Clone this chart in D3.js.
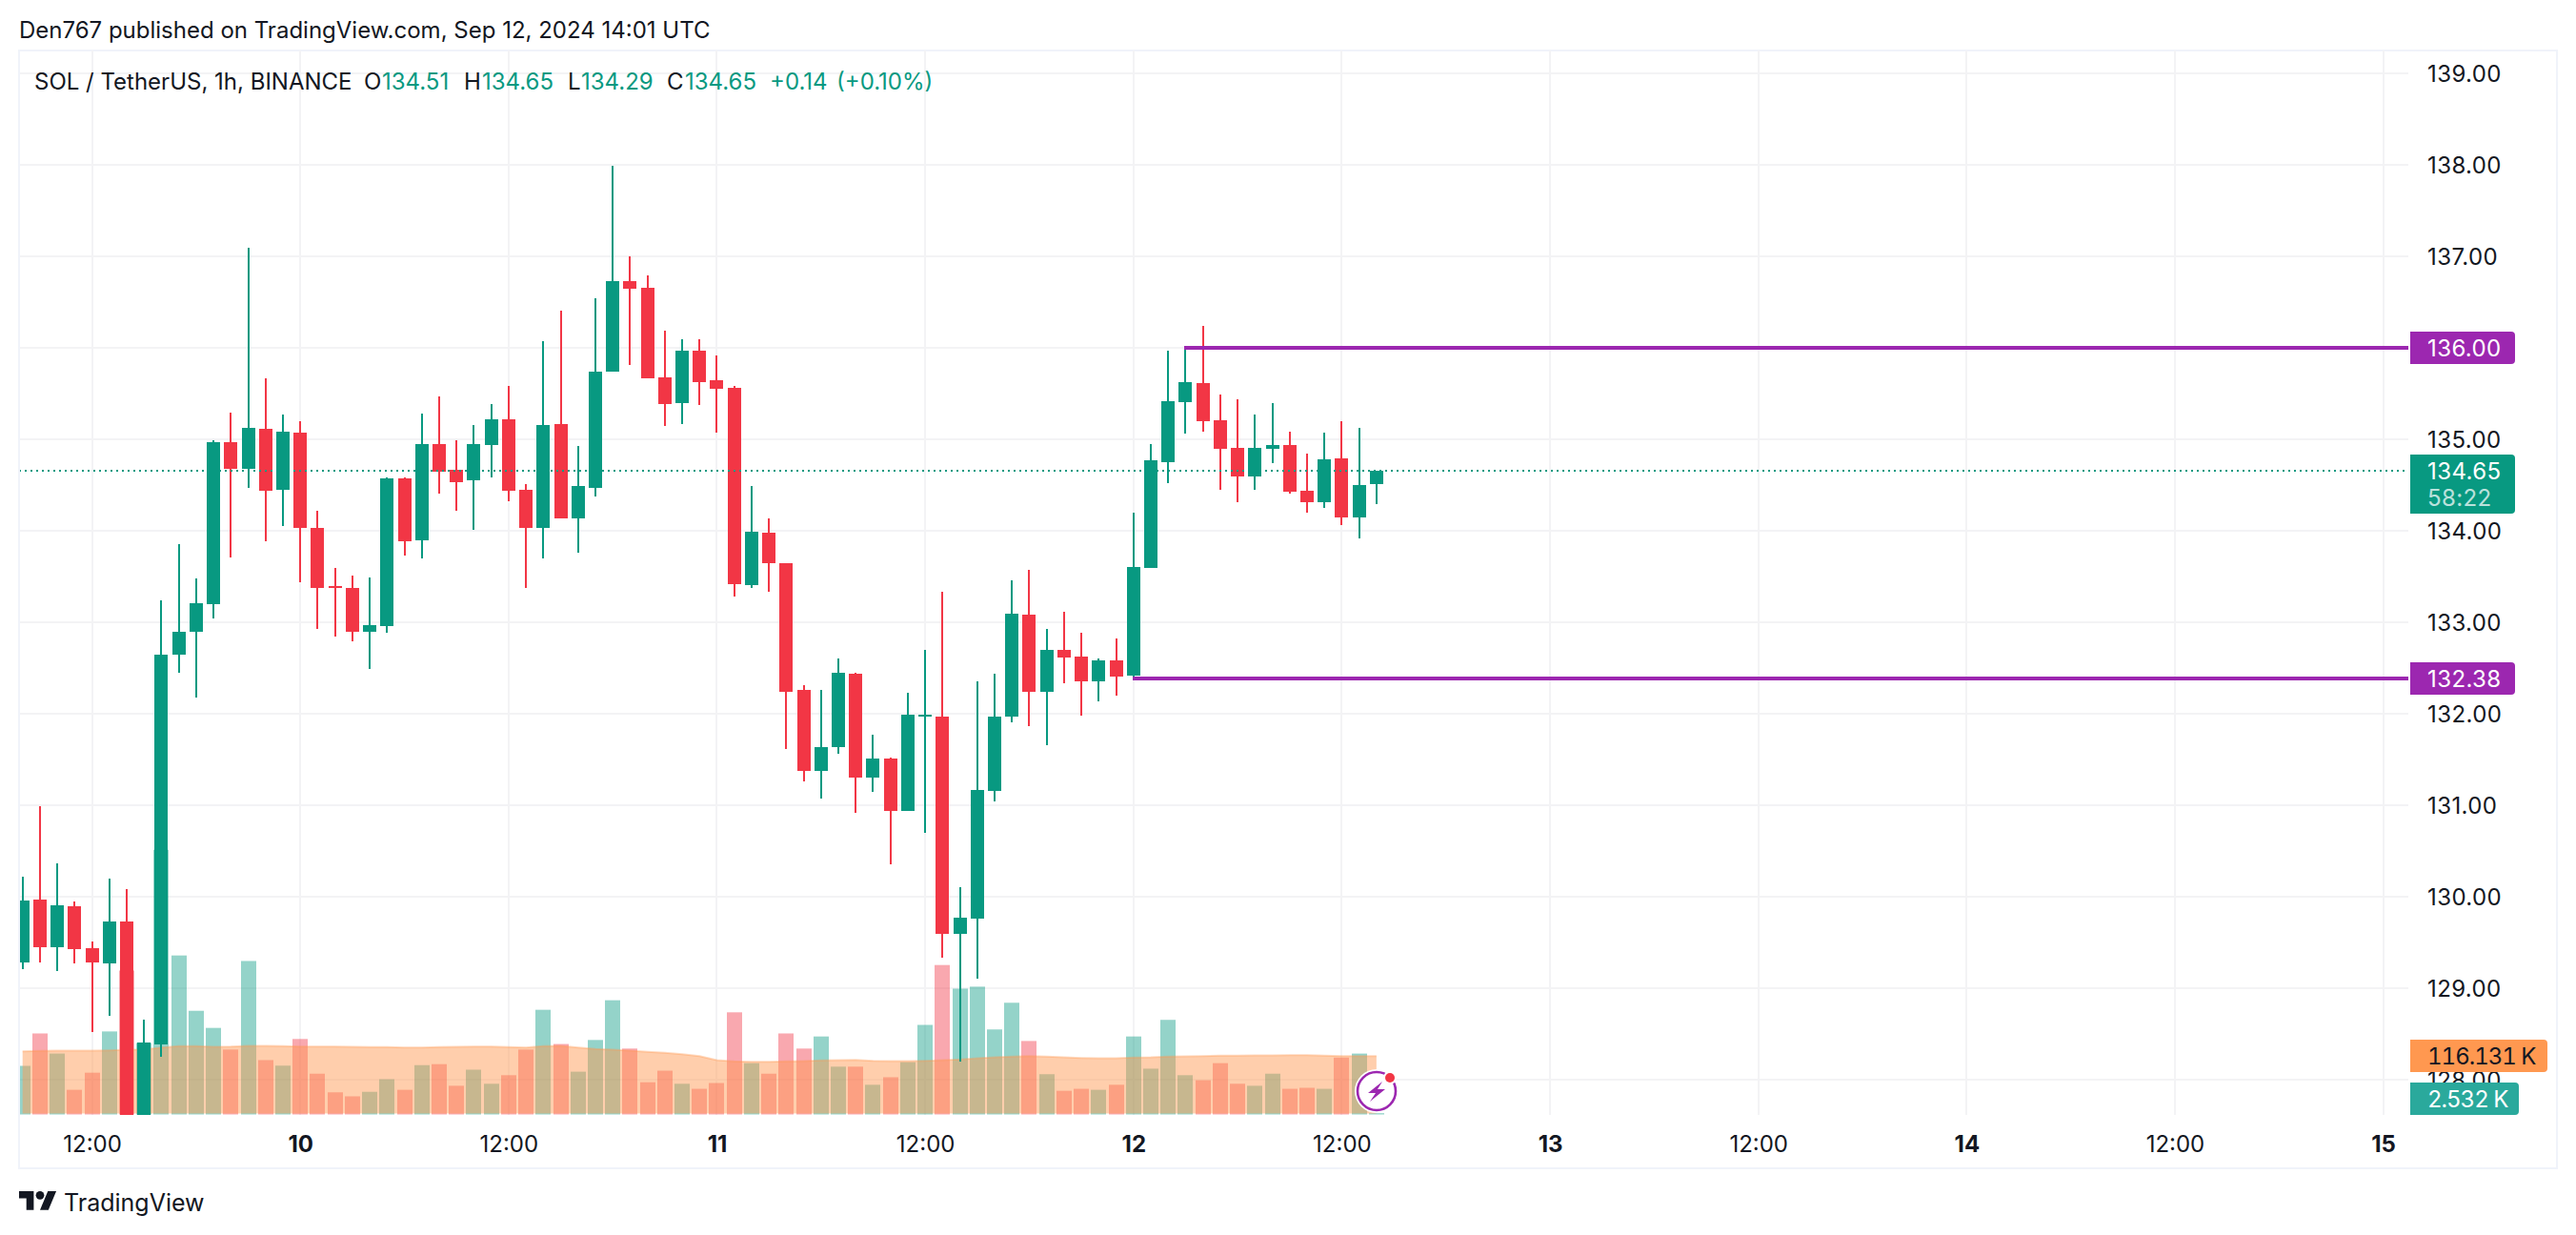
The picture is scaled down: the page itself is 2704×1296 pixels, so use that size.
<!DOCTYPE html>
<html>
<head>
<meta charset="utf-8">
<script src="https://cdn.jsdelivr.net/npm/d3@7"></script>
<style>
  html, body { margin: 0; padding: 0; background: #fff; }
  text { font-family: Inter, "Noto Sans", sans-serif; fill: #131722; }
</style>
</head>
<body>
<div id="chart"></div>
<script>
// Values, one entry per 1h bar, first bar is Sep 9 08:00 UTC
const open = [129.28,129.97,129.45,129.89,129.43,129.27,129.73,127.60,128.38,132.64,132.89,133.20,134.97,134.67,135.11,134.44,135.07,134.03,133.39,133.37,132.89,132.96,134.57,133.89,134.95,134.66,134.55,134.93,135.22,134.45,134.03,135.16,134.13,134.47,135.74,136.73,136.65,135.67,135.39,135.97,135.64,135.56,133.40,133.98,133.64,132.26,131.37,131.63,132.43,131.30,131.51,130.93,131.97,131.97,129.59,129.76,131.15,131.97,133.08,132.24,132.69,132.62,132.35,132.58,132.41,133.59,134.75,135.40,135.61,135.21,134.90,134.59,134.89,134.93,134.43,134.31,134.79,134.14,134.51]
const high = [130.22,130.99,130.36,129.95,129.51,130.20,130.08,128.65,133.24,133.85,133.48,134.99,135.29,137.09,135.66,135.27,135.19,134.22,133.59,133.51,133.49,134.58,134.58,135.28,135.47,134.99,135.15,135.38,135.58,134.51,136.07,136.40,134.92,136.54,137.99,137.00,136.79,136.18,136.09,136.09,135.91,135.58,134.49,134.13,133.64,132.31,132.26,132.60,132.44,131.77,131.52,132.23,132.69,133.33,130.10,132.35,132.43,133.46,133.57,132.92,133.11,132.88,132.60,132.82,134.20,134.94,135.97,135.99,136.24,135.49,135.43,135.27,135.39,135.08,134.84,135.07,135.20,135.12,134.65]
const low = [129.21,129.28,129.18,129.27,128.52,128.69,127.60,127.60,128.25,132.44,132.17,133.04,133.71,134.47,133.88,134.05,133.43,132.92,132.84,132.79,132.49,132.88,133.73,133.69,134.40,134.22,134.01,134.58,134.32,133.37,133.69,134.13,133.76,134.37,135.74,135.81,135.66,135.14,135.16,135.37,135.07,133.28,133.37,133.33,131.61,131.26,131.07,131.56,130.91,131.14,130.35,130.93,130.69,129.33,128.19,129.10,131.04,131.90,131.86,131.65,132.33,131.98,132.13,132.20,132.37,133.59,134.52,135.06,135.08,134.45,134.31,134.44,134.74,134.40,134.20,134.25,134.06,133.91,134.29]
const close = [129.96,129.45,129.90,129.42,129.28,129.73,127.60,128.40,132.64,132.89,133.21,134.97,134.67,135.12,134.43,135.08,134.03,133.37,133.37,132.89,132.97,134.57,133.88,134.95,134.64,134.53,134.94,135.22,134.43,134.03,135.15,134.13,134.49,135.74,136.73,136.64,135.66,135.38,135.97,135.62,135.55,133.41,133.99,133.64,132.24,131.37,131.63,132.44,131.30,131.51,130.93,131.99,131.99,129.59,129.77,131.16,131.97,133.09,132.24,132.69,132.61,132.35,132.58,132.40,133.60,134.77,135.41,135.62,135.19,134.89,134.59,134.90,134.93,134.42,134.31,134.78,134.14,134.50,134.65]
const volume = [96.6,161,121,49,83,165,286,142,526,316,206,172,129,305,108,97,150,81,44,36,45,70,49,98,100,57,89,61,78,129,208,140,85,148,227,131,64,87,61,51,62.5,203,102,81,161,131,155,95,95,59,74,104,178,297,250,254,169,222,146,80,47,51,49,59,155,91,188,78,68,102,61,57,81,51,53,51,113,121,2.532]
const volumeMA = [125.6,126.3,126.9,126.9,126.9,127.5,128.8,129.4,133.2,135.7,135.7,134.5,135,136.4,136.4,135.7,135.1,135.1,135.1,134.5,133.8,133.8,133.2,133.2,133.8,134.5,135.1,135.1,133.8,133.2,135.7,136.4,133.2,130,128.8,126.9,124.4,122.5,120,116,108,105.4,104.8,104.8,105.4,106,107.3,108,108.6,106.7,106,106,106.7,108,109.2,111.7,113.6,115,116.2,115,113.6,112.4,111.7,111.7,113,113.6,115,115.5,116.2,116.8,116.8,117.4,117.4,118,118,116.8,115.8,116,116.131]
const priceTicks = [139,138,137,136,135,134,133,132,131,130,129,128]
const levels = [
  { price: 136.00, from: 67 },
  { price: 132.38, from: 64 }
]

const WIDTH = 2704
const HEIGHT = 1296
const FRAME = { LEFT: 20, RIGHT: 2684, TOP: 53, BOTTOM: 1226 }
const PLOT_RIGHT = 2528
const PLOT_BOTTOM = 1170
const GREEN = "#089981"
const RED = "#F23645"
const PURPLE = "#9C27B0"
const ORANGE = "#FF9850"
const GRID = "#F3F3F5"

const start = Date.UTC(2024, 8, 9, 8)
const dates = open.map((d, i) => new Date(start + i * 3600000))
const bars = open.map((d, i) => ({
  date: dates[i], open: d, high: high[i], low: low[i], close: close[i],
  volume: volume[i], ma: volumeMA[i], up: close[i] >= d
}))
const last = bars[bars.length - 1]

// Scales
const x = d3.scaleUtc()
  .domain([new Date(start), new Date(Date.UTC(2024, 8, 15, 0))])
  .range([23.7, 2501.6])
const y = d3.scaleLinear().domain([139, 128]).range([76.7, 1132.7])
const yVol = d3.scaleLinear().domain([0, 1000]).range([1169.5, 641.5])
const px = d => Math.round(x(d))

const svg = d3.select("#chart").append("svg")
  .attr("width", WIDTH)
  .attr("height", HEIGHT)
  .style("display", "block")

svg.append("defs").append("clipPath").attr("id", "plot")
  .append("rect")
  .attr("x", FRAME.LEFT + 1).attr("y", FRAME.TOP)
  .attr("width", PLOT_RIGHT - FRAME.LEFT - 1)
  .attr("height", PLOT_BOTTOM - FRAME.TOP)

// Frame
svg.append("rect")
  .attr("x", FRAME.LEFT).attr("y", FRAME.TOP)
  .attr("width", FRAME.RIGHT - FRAME.LEFT)
  .attr("height", FRAME.BOTTOM - FRAME.TOP)
  .attr("fill", "none")
  .attr("stroke", "#F0F3FA")
  .attr("stroke-width", 2)
  .attr("shape-rendering", "crispEdges")

const timeTicks = d3.utcHour.every(12).range(new Date(Date.UTC(2024, 8, 9, 12)), new Date(Date.UTC(2024, 8, 15, 1)))
const plot = svg.append("g").attr("clip-path", "url(#plot)")

// Grid
plot.append("g").selectAll("line").data(priceTicks).join("line")
  .attr("x1", FRAME.LEFT).attr("x2", PLOT_RIGHT)
  .attr("y1", d => Math.round(y(d))).attr("y2", d => Math.round(y(d)))
  .attr("stroke", GRID).attr("stroke-width", 2)
  .attr("shape-rendering", "crispEdges")
plot.append("g").selectAll("line").data(timeTicks).join("line")
  .attr("x1", d => px(d)).attr("x2", d => px(d))
  .attr("y1", FRAME.TOP).attr("y2", PLOT_BOTTOM)
  .attr("stroke", GRID).attr("stroke-width", 2)
  .attr("shape-rendering", "crispEdges")

// Volume
plot.append("g").selectAll("rect").data(bars).join("rect")
  .attr("x", d => px(d.date) - 8)
  .attr("width", 16)
  .attr("y", d => yVol(d.volume))
  .attr("height", d => yVol(0) - yVol(d.volume))
  .attr("fill", d => d.up ? GREEN : RED)
  .attr("fill-opacity", 0.43)

// Volume MA
const maArea = d3.area().x(d => x(d.date)).y0(yVol(0) - 1).y1(d => yVol(d.ma))
const maLine = d3.line().x(d => x(d.date)).y(d => yVol(d.ma))
plot.append("path").datum(bars)
  .attr("d", maArea)
  .attr("fill", ORANGE).attr("fill-opacity", 0.475)
plot.append("path").datum(bars)
  .attr("d", maLine)
  .attr("fill", "none")
  .attr("stroke", ORANGE).attr("stroke-opacity", 0.35).attr("stroke-width", 2)

// Candles
const candles = plot.append("g").selectAll("g").data(bars).join("g")
  .attr("fill", d => d.up ? GREEN : RED)
  .attr("shape-rendering", "crispEdges")
candles.append("rect")
  .attr("x", d => px(d.date) - 1)
  .attr("width", 2)
  .attr("y", d => Math.round(y(d.high)))
  .attr("height", d => Math.round(y(d.low)) - Math.round(y(d.high)))
candles.append("rect")
  .attr("x", d => px(d.date) - 7)
  .attr("width", 14)
  .attr("y", d => Math.round(y(Math.max(d.open, d.close))))
  .attr("height", d => Math.max(2, Math.round(y(Math.min(d.open, d.close))) - Math.round(y(Math.max(d.open, d.close)))))

// Last price line
plot.append("line")
  .attr("x1", FRAME.LEFT).attr("x2", PLOT_RIGHT - 4)
  .attr("y1", Math.round(y(last.close))).attr("y2", Math.round(y(last.close)))
  .attr("stroke", GREEN).attr("stroke-width", 2)
  .attr("stroke-dasharray", "2 4")
  .attr("shape-rendering", "crispEdges")

// Drawn levels
svg.append("g").selectAll("line").data(levels).join("line")
  .attr("x1", d => px(bars[d.from].date) - 1)
  .attr("x2", PLOT_RIGHT)
  .attr("y1", d => Math.round(y(d.price))).attr("y2", d => Math.round(y(d.price)))
  .attr("stroke", PURPLE).attr("stroke-width", 4)
  .attr("shape-rendering", "crispEdges")

// Price axis
const priceAxis = d3.axisRight(y).tickValues(priceTicks).tickFormat(d3.format(".2f")).tickSize(0).tickPadding(0)
const priceG = svg.append("g")
  .attr("transform", "translate(2548,0)")
  .call(priceAxis)
priceG.select(".domain").remove()
priceG.attr("font-family", null).attr("font-size", null)
priceG.selectAll("text").attr("dy", "0.37em").attr("font-size", 24).attr("letter-spacing", 0.4)

// Time axis
const timeAxis = d3.axisBottom(x).tickValues(timeTicks)
  .tickFormat(d => d.getUTCHours() === 0 ? d.getUTCDate() : "12:00")
  .tickSize(0)
const timeG = svg.append("g")
  .attr("transform", `translate(0,${PLOT_BOTTOM})`)
  .call(timeAxis)
timeG.select(".domain").remove()
timeG.attr("font-family", null).attr("font-size", null)
timeG.selectAll("text")
  .attr("y", 30).attr("dy", "0.37em")
  .attr("font-size", 24)
  .attr("font-weight", d => d.getUTCHours() === 0 ? 700 : 400)

// Right scale labels
const fmtK = d => d3.format(".3f")(d) + " K"
const labels = [
  { top: 348, h: 34, w: 110, bg: PURPLE, lines: [{ t: "136.00", y: 365, c: "#fff" }] },
  { top: 695, h: 34, w: 110, bg: PURPLE, lines: [{ t: "132.38", y: 712, c: "#fff" }] },
  { top: 477, h: 62, w: 110, bg: GREEN, lines: [{ t: last.close.toFixed(2), y: 494, c: "#fff" }, { t: "58:22", y: 522, c: "#fff", o: 0.72 }] },
  { top: 1091, h: 34, w: 144, bg: ORANGE, lines: [{ t: fmtK(last.ma), y: 1108, c: "#131722", tab: true }] },
  { top: 1136, h: 34, w: 114, bg: "#2AA99C", lines: [{ t: fmtK(last.volume), y: 1153, c: "#fff", tab: true }] }
]
const labelG = svg.append("g").selectAll("g").data(labels).join("g")
labelG.append("path")
  .attr("d", d => `M2530,${d.top}h${d.w - 4}a4,4 0 0 1 4,4v${d.h - 8}a4,4 0 0 1 -4,4h-${d.w - 4}z`)
  .attr("fill", d => d.bg)
labelG.selectAll("text").data(d => d.lines).join("text")
  .attr("x", 2548)
  .attr("y", d => d.y)
  .attr("dy", "0.37em")
  .attr("font-size", 24)
  .attr("letter-spacing", d => d.tab ? -1 : 0.4)
  .style("font-variant-numeric", d => d.tab ? "tabular-nums" : null)
  .style("fill", d => d.c)
  .attr("opacity", d => d.o || 1)
  .text(d => d.t)

// Bolt badge next to the last bar
const badge = svg.append("g").attr("transform", `translate(${px(last.date)},1145)`)
badge.append("circle").attr("r", 23).attr("fill", "#fff")
badge.append("circle").attr("r", 20).attr("fill", "#fff").attr("stroke", PURPLE).attr("stroke-width", 2.6)
badge.append("path").attr("d", "M6,-10 L-9,2 L-1,2 L-7,11 L9,-2 L1,-2 Z").attr("fill", PURPLE)
badge.append("circle").attr("cx", 14).attr("cy", -14).attr("r", 7).attr("fill", "#fff")
badge.append("circle").attr("cx", 14).attr("cy", -14).attr("r", 5).attr("fill", RED)

// Header and legend
svg.append("text").attr("x", 20).attr("y", 32).attr("dy", "0.35em").attr("font-size", 24)
  .text("Den767 published on TradingView.com, Sep 12, 2024 14:01 UTC")

const legend = [
  { t: "SOL / TetherUS, 1h, BINANCE", x: 36 },
  { t: "O", x: 382 },
  { t: last.open.toFixed(2), x: 401, g: true },
  { t: "H", x: 487 },
  { t: last.high.toFixed(2), x: 506, g: true },
  { t: "L", x: 596 },
  { t: last.low.toFixed(2), x: 610, g: true },
  { t: "C", x: 700 },
  { t: last.close.toFixed(2), x: 719, g: true },
  { t: "+0.14", x: 808, g: true },
  { t: "(+0.10%)", x: 878, g: true }
]
svg.append("g").selectAll("text").data(legend).join("text")
  .attr("x", d => d.x).attr("y", 86).attr("dy", "0.35em")
  .attr("font-size", 24)
  .style("fill", d => d.g ? GREEN : "#131722")
  .text(d => d.t)

// TradingView logo
const logo = svg.append("g").attr("transform", "translate(20,1245.5) scale(1.1)").attr("fill", "#131722")
logo.append("path").attr("d", "M14 22H7V11H0V4h14v18zM28 22h-8l7.5-18h8L28 22z")
logo.append("circle").attr("cx", 20).attr("cy", 8).attr("r", 4)
svg.append("text").attr("x", 67).attr("y", 1262).attr("dy", "0.35em").attr("font-size", 25)
  .text("TradingView")
</script>
</body>
</html>
